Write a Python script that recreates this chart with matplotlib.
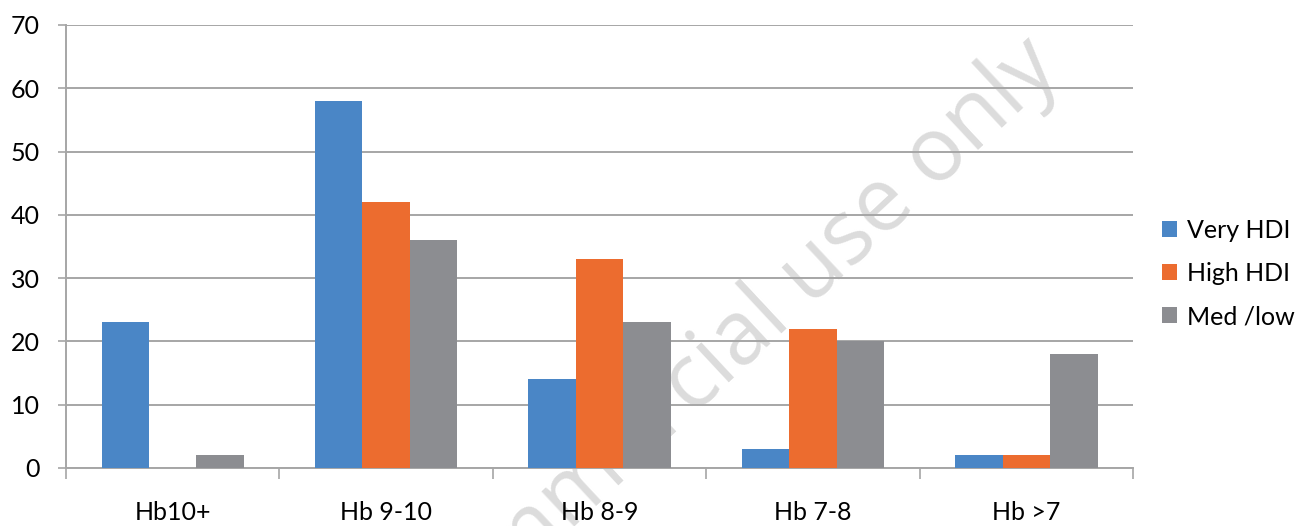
import numpy as np
import matplotlib
matplotlib.use("Agg")
import matplotlib.pyplot as plt

# Hb groups and share of each HDI group
categories = ["Hb10+", "Hb 9-10", "Hb 8-9", "Hb 7-8", "Hb >7"]
very_hdi = [23, 58, 14, 3, 2]
high_hdi = [0, 42, 33, 22, 2]
med_low = [2, 36, 23, 20, 18]
series_names = ["Very HDI", "High HDI", "Med /low"]
yticks = [0, 10, 20, 30, 40, 50, 60, 70]

colors = ["#4A86C6", "#EC6C2F", "#8C8D91"]
grid_col = "#A6A6A6"

plt.rcParams['font.family'] = ['Lato', 'DejaVu Sans']

fig = plt.figure(figsize=(13.03, 5.26), dpi=100)
ax = fig.add_axes([0.0507, 0.1103, 0.8189, 0.8422])

x = np.arange(len(categories))
width = 1 / 4.5
for i, (vals, name) in enumerate(zip([very_hdi, high_hdi, med_low], series_names)):
    ax.bar(x + (i - 1) * width, vals, width, color=colors[i], label=name, zorder=3)

ax.set_xlim(-0.5, len(categories) - 0.5)
ax.set_ylim(0, 70)
ax.set_yticks(yticks)
ax.tick_params(axis='y', labelsize=18, length=6, width=1.2, color=grid_col, pad=13)
ax.yaxis.grid(True, color=grid_col, linewidth=1.4, zorder=1)

# category boundaries carry the ticks, labels sit in the middle
ax.set_xticks(np.arange(len(categories) + 1) - 0.5)
ax.set_xticklabels([])
ax.set_xticks(x, minor=True)
ax.set_xticklabels(categories, minor=True, fontsize=18)
ax.tick_params(axis='x', which='major', length=8, width=1.2, color=grid_col)
ax.tick_params(axis='x', which='minor', length=0, pad=24)

for s in ['top', 'right']:
    ax.spines[s].set_visible(False)
for s in ['left', 'bottom']:
    ax.spines[s].set_color(grid_col)
    ax.spines[s].set_linewidth(1.4)

ax.legend(loc='center left', bbox_to_anchor=(0.8745, 0.48), bbox_transform=fig.transFigure,
          frameon=False, fontsize=18, handlelength=0.6, handleheight=0.6,
          handletextpad=0.4, labelspacing=0.8)

# watermark sits under the grid and bars
ax.text(660 / 1303, 1 - 415 / 526, "Non-commercial use only", fontsize=64,
        color="#DCDCDC", rotation=43, ha='center', va='center',
        rotation_mode='anchor', family=['Open Sans', 'DejaVu Sans'],
        transform=fig.transFigure, zorder=0.5, clip_on=False)

fig.savefig("out.png", dpi=100)
